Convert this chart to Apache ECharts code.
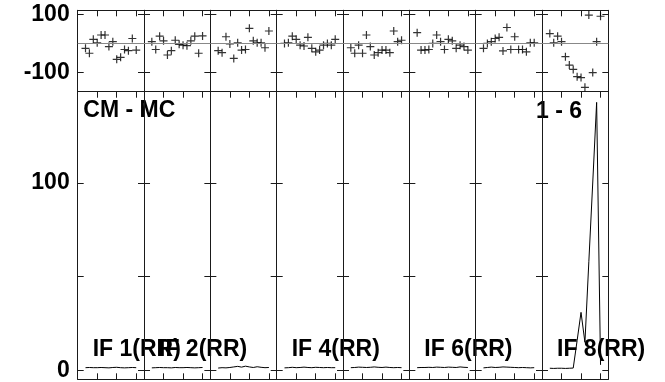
<!DOCTYPE html>
<html><head><meta charset="utf-8">
<script src="https://cdn.jsdelivr.net/npm/echarts@6/dist/echarts.min.js"></script>
<style>html,body{margin:0;padding:0;background:#fff}#c{width:665px;height:382px}</style>
</head><body><div id="c"></div>
<script>
// ---- data ----
const channels = [2,3,4,5,6,7,8,9,10,11,12,13,14,15];
const ifLabels = ['IF 1(RR)','IF 2(RR)','','IF 4(RR)','','IF 6(RR)','','IF 8(RR)'];
const phaseTicks = [-100, 0, 100];
const phaseTickLabels = [-100, 100];
const ampTicks = [0, 50, 100];
const ampTickLabels = [0, 100];
const chanTicks = [5, 10, 15];

const phase1 = [-17,-34,14,2,29,29,-11,6,-55,-48,-21,-25,17,-23];
const phase2 = [6,-21,25,9,-40,-25,11,-3,-6,-8,9,25,-34,26];
const phase3 = [-25,-32,23,-2,-52,2,-23,-21,52,9,2,2,-15,43];
const phase4 = [0,2,25,14,-6,-9,21,-17,-29,-23,-6,0,-6,14];
const phase5 = [-15,-34,-6,-34,29,-11,-40,-32,-23,-23,-32,43,6,11];
const phase6 = [37,-23,-23,-21,0,29,6,-21,14,9,-17,-6,-11,-23];
const phase7 = [-17,0,6,17,21,-26,55,-21,23,-21,-21,-29,2,2];
const phase8 = [34,2,25,6,-46,-75,-90,-115,-118,-152,98,-101,6,94];

const amp1 = [1.5,1.6,1.5,1.5,1.6,1.5,1.4,1.6,1.7,1.5,1.4,1.5,1.6,1.5];
const amp2 = [1.4,1.5,1.6,1.5,1.5,1.4,1.6,1.5,1.5,1.6,1.5,1.4,1.5,1.6];
const amp3 = [1.3,1.5,1.4,1.6,1.9,2.2,1.8,2.3,1.9,1.6,2.0,1.7,1.5,1.6];
const amp4 = [1.4,1.5,1.7,1.5,1.6,1.8,1.6,1.5,1.7,1.6,1.5,1.6,1.5,1.5];
const amp5 = [1.5,1.6,1.8,1.7,1.6,1.7,1.9,1.7,1.6,1.8,1.6,1.5,1.6,1.5];
const amp6 = [1.5,1.6,1.6,1.7,1.6,1.8,1.7,1.6,1.8,1.7,1.6,1.9,1.7,1.6];
const amp7 = [1.4,1.6,1.8,1.6,1.7,1.9,1.8,1.7,1.6,1.5,1.6,1.5,1.4,1.5];
const amp8 = [1.2,1.1,1.2,1.2,1.1,1.2,1.3,16,31,15,58,100,143,3];

const phases = [phase1,phase2,phase3,phase4,phase5,phase6,phase7,phase8];
const amps = [amp1,amp2,amp3,amp4,amp5,amp6,amp7,amp8];

// ---- layout ----
const X0 = 77.7, PW = 66.33;
const TOP_T = 10.3, TOP_H = 81.4;
const BOT_T = 91.7, BOT_H = 287.6;
const FONT = 'bold 23px "Liberation Sans", Arial, sans-serif';
const lineCol = '#1a1a1a';
const plus = 'path://M-0.15,-1H0.15V1H-0.15Z M-1,-0.15H1V0.15H-1Z';

const grids = [], xAxes = [], yAxes = [], series = [];
function xPair(g){
  ['top','bottom'].forEach(pos => {
    const tick = !(g < 8 && pos === 'bottom');
    xAxes.push({type:'value', gridIndex:g, position:pos, min:0, max:17,
      axisLine:{show:true, onZero:false, lineStyle:{color:lineCol, width:1}},
      axisTick:{show:tick, inside:true, length:6, customValues:chanTicks, lineStyle:{color:lineCol}},
      axisLabel:{show:false}, splitLine:{show:false}});
  });
}
function yPair(g, min, max, ticks, labels, showLab){
  ['left','right'].forEach(pos => {
    const lab = showLab && pos === 'left';
    yAxes.push({type:'value', gridIndex:g, position:pos, min:min, max:max,
      axisLine:{show:true, onZero:false, lineStyle:{color:lineCol, width:1}},
      axisTick:{show:true, inside:true, length:6, customValues:ticks, lineStyle:{color:lineCol}},
      axisLabel: lab ? {show:true, customValues:labels, margin:8, color:'#000',
        fontFamily:'"Liberation Sans", Arial, sans-serif', fontWeight:'bold', fontSize:23} : {show:false},
      splitLine:{show:false}});
  });
}
for (let i = 0; i < 8; i++) {
  grids.push({left: X0 + i*PW, width: PW, top: TOP_T, height: TOP_H, containLabel:false});
  xPair(i);
  yPair(i, -167, 114.5, phaseTicks, phaseTickLabels, i === 0);
}
for (let i = 0; i < 8; i++) {
  const g = 8 + i;
  grids.push({left: X0 + i*PW, width: PW, top: BOT_T, height: BOT_H, containLabel:false});
  xPair(g);
  yPair(g, -4.7, 148.7, ampTicks, ampTickLabels, i === 0);
}
for (let i = 0; i < 8; i++) {
  series.push({type:'scatter', xAxisIndex:2*i, yAxisIndex:2*i,
    data: channels.map((c,k) => [c, phases[i][k]]),
    symbol: plus, symbolSize: 8, itemStyle:{color:'#000'},
    markLine:{silent:true, symbol:'none', label:{show:false}, animation:false,
      lineStyle:{color:'#888', type:'solid', width:1}, data:[{yAxis:0}]}});
  const g = 8 + i;
  series.push({type:'line', xAxisIndex:2*g + 1, yAxisIndex:2*g,
    data: channels.map((c,k) => [c, amps[i][k]]),
    showSymbol:false, symbol:'none', lineStyle:{color:'#000', width:1}});
}

const graphics = [
  {type:'text', x:83.3, y:111, style:{text:'CM - MC', font:FONT, fill:'#000', align:'left', verticalAlign:'middle'}},
  {type:'text', x:582, y:111.5, style:{text:'1 - 6', font:FONT, fill:'#000', align:'right', verticalAlign:'middle'}}
];
ifLabels.forEach((t, i) => {
  if (!t) return;
  graphics.push({type:'text', x: X0 + i*PW + 15, y: 350,
    style:{text:t, font:FONT, fill:'#000', align:'left', verticalAlign:'middle'}});
});

const chart = echarts.init(document.getElementById('c'), null, {renderer:'canvas'});
chart.setOption({
  animation:false, backgroundColor:'#fff',
  grid: grids, xAxis: xAxes, yAxis: yAxes, series: series, graphic: graphics
});
</script></body></html>
